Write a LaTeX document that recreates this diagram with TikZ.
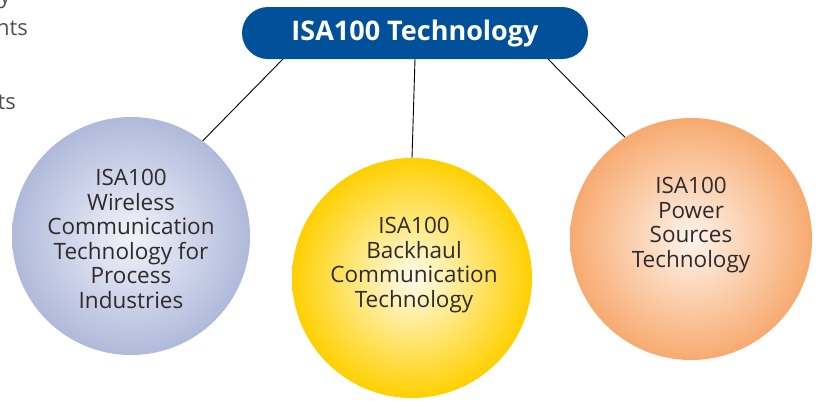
\documentclass[tikz,border=0pt]{standalone}
\usepackage{fontspec}
\setmainfont{Open Sans}
\usetikzlibrary{shapes.misc}
\definecolor{isablue}{HTML}{01519A}
\definecolor{lavedge}{HTML}{AFB9DA}
\definecolor{lavmid}{HTML}{F2F3FA}
\definecolor{yeledge}{HTML}{FFD000}
\definecolor{yelmid}{HTML}{FFFCEE}
\definecolor{oraedge}{HTML}{F7AA70}
\definecolor{oramid}{HTML}{FFF4EC}
\definecolor{txtdark}{HTML}{2F2B2C}
\definecolor{fraggray}{HTML}{505050}
\tikzset{
  titlebox/.style={rounded rectangle, fill=isablue, text=white,
    minimum width=346pt, minimum height=52pt, inner sep=0pt,
    font=\fontsize{27}{30}\selectfont\bfseries},
  bubble/.style={circle, inner sep=0pt},
  bubbletext/.style={text=txtdark, align=center, inner sep=0pt,
    font=\fontsize{22.5}{24.6}\selectfont},
  link/.style={draw=black, line width=0.9pt},
  frag/.style={text=fraggray, inner sep=0pt, font=\fontsize{22}{24}\selectfont}
}
\begin{document}
\begin{tikzpicture}[x=1pt,y=-1pt]
\useasboundingbox (0,0) rectangle (821,400);
% cropped text fragments at the left edge
\node[frag, anchor=base east] (f1) at (11,3) {y};
\node[frag, anchor=base east] (f2) at (28,35) {nts};
\node[frag, anchor=base east] (f3) at (16,109) {ts};
% bubbles
\shade[inner color=lavmid, outer color=lavedge] (131,236) circle (119);
\node[bubble, minimum size=238pt] (wl) at (131,236) {};
\node[bubbletext] (wlt) at (131,239)
  {ISA100\\Wireless\\Communication\\Technology for\\Process\\Industries};
\shade[inner color=yelmid, outer color=yeledge] (412,278) circle (120);
\node[bubble, minimum size=240pt] (bh) at (412,278) {};
\node[bubbletext] (bht) at (414,265)
  {ISA100\\Backhaul\\Communication\\Technology};
\shade[inner color=oramid, outer color=oraedge] (691,239) circle (121);
\node[bubble, minimum size=242pt] (ps) at (691,239) {};
\node[bubbletext] (pst) at (691,225)
  {ISA100\\Power\\Sources\\Technology};
% title
\node[titlebox] (title) at (415,33) {ISA100 Technology};
% connectors
\coordinate (tl) at (283,59);
\coordinate (tm) at (415,59);
\coordinate (tr) at (548,59);
\draw[link] (tl) -- (wl.53);
\draw[link] (tm) -- (bh.north);
\draw[link] (tr) -- (ps.123);
\end{tikzpicture}
\end{document}
